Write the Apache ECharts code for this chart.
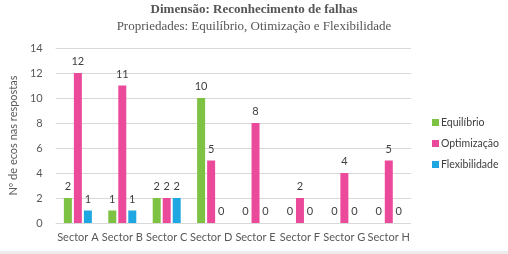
<!DOCTYPE html>
<html>
<head>
<meta charset="utf-8">
<script src="https://cdn.jsdelivr.net/npm/echarts@6/dist/echarts.min.js"></script>
<style>
  html, body { margin: 0; padding: 0; background: #fff; }
  #chart { width: 508px; height: 254px; }
</style>
</head>
<body>
<div id="chart"></div>
<script>
const sectors = ['Sector A', 'Sector B', 'Sector C', 'Sector D', 'Sector E', 'Sector F', 'Sector G', 'Sector H'];
const equilibrio = [2, 1, 2, 10, 0, 0, 0, 0];
const optimizacao = [12, 11, 2, 5, 8, 2, 4, 5];
const flexibilidade = [1, 1, 2, 0, 0, 0, 0, 0];

const font = 'Lato, "Open Sans", sans-serif';

function barSeries(name, data, color) {
  return {
    name: name,
    type: 'bar',
    data: data,
    barWidth: 8,
    barGap: '25%',
    itemStyle: { color: color },
    label: {
      show: true,
      position: 'top',
      distance: 6,
      color: '#404040',
      fontSize: 11,
      fontFamily: font
    }
  };
}

const chart = echarts.init(document.getElementById('chart'));
chart.setOption({
  animation: false,
  title: {
    text: 'Dimensão: Reconhecimento de falhas',
    subtext: 'Propriedades: Equilíbrio, Otimização e Flexibilidade',
    left: 'center',
    top: -2,
    itemGap: 4,
    textStyle: { fontFamily: '"Liberation Serif", serif', fontWeight: 'bold', fontSize: 13, color: '#555' },
    subtextStyle: { fontFamily: '"Liberation Serif", serif', fontSize: 13, color: '#555' }
  },
  legend: {
    orient: 'vertical',
    left: 427,
    top: 112,
    itemWidth: 7,
    itemHeight: 7,
    itemGap: 10,
    icon: 'rect',
    textStyle: { fontFamily: font, fontSize: 10.5, color: '#404040', padding: [0, 0, 0, -3] },
    data: ['Equilíbrio', 'Optimização', 'Flexibilidade']
  },
  grid: { left: 54, right: 97, top: 48, bottom: 31 },
  xAxis: {
    type: 'category',
    data: sectors,
    axisLine: { show: false },
    axisTick: { show: false },
    axisLabel: { interval: 0, color: '#595959', fontFamily: font, fontSize: 11, margin: 9 }
  },
  yAxis: {
    type: 'value',
    min: 0,
    max: 14,
    interval: 2,
    name: 'Nº de ecos nas respostas',
    nameLocation: 'middle',
    nameGap: 25,
    nameRotate: 90,
    nameTextStyle: { fontFamily: font, fontSize: 11, color: '#595959' },
    axisLabel: { color: '#595959', fontFamily: font, fontSize: 11, margin: 13 },
    splitLine: { lineStyle: { color: '#d9d9d9' } }
  },
  graphic: [{
    type: 'rect',
    shape: { x: 0, y: 251, width: 508, height: 3 },
    style: { fill: '#ececec' },
    silent: true
  }],
  series: [
    barSeries('Equilíbrio', equilibrio, '#7DC242'),
    barSeries('Optimização', optimizacao, '#EB4A9B'),
    barSeries('Flexibilidade', flexibilidade, '#1EA7E1')
  ]
});
</script>
</body>
</html>
